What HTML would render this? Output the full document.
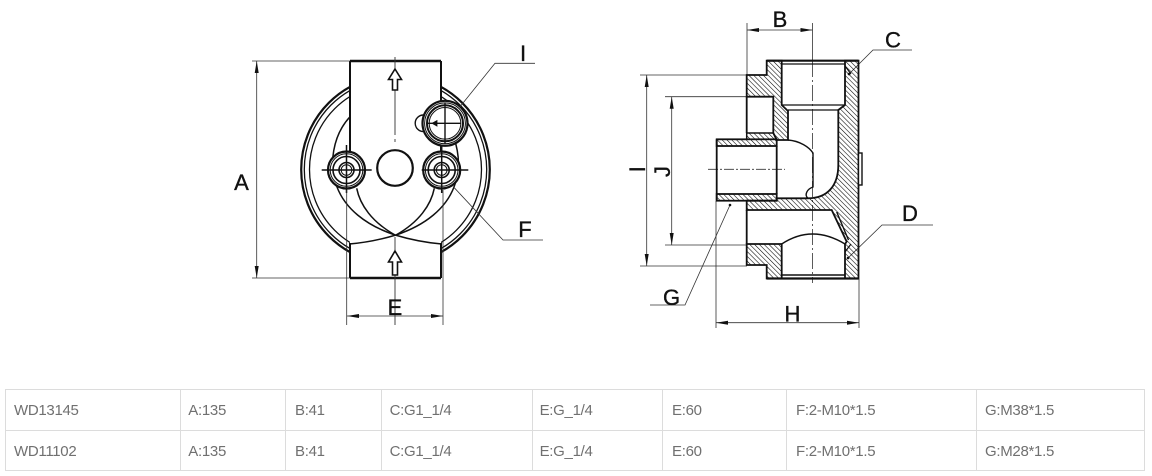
<!DOCTYPE html>
<html><head><meta charset="utf-8"><style>
html,body{margin:0;padding:0;background:#fff;}
body{width:1152px;height:476px;overflow:hidden;position:relative;}
svg{position:absolute;left:0;top:0;}
.lb{font-family:"Liberation Sans",Arial,sans-serif;font-size:22px;fill:#111;stroke:#111;stroke-width:0.35;text-anchor:middle;}
.tb{font-family:"Liberation Sans",Arial,sans-serif;font-size:15px;fill:#707070;letter-spacing:-0.3px;}
</style></head><body>
<svg width="1152" height="476" viewBox="0 0 1152 476" xmlns="http://www.w3.org/2000/svg">
<defs>
<pattern id="h" width="3.4" height="3.4" patternUnits="userSpaceOnUse" patternTransform="rotate(-45)">
<line x1="0" y1="-1" x2="0" y2="5" stroke="#000" stroke-width="1.1"/>
</pattern>
<clipPath id="out"><rect x="0" y="0" width="350" height="476"/><rect x="441" y="0" width="300" height="476"/></clipPath>
</defs>

<!-- ============ LEFT VIEW ============ -->
<g fill="none" stroke="#111">
  <g clip-path="url(#out)">
    <circle cx="395.5" cy="169.5" r="94.3" stroke-width="2.2"/>
    <circle cx="395.5" cy="169.5" r="91.2" stroke-width="1.3"/>
    <circle cx="395.5" cy="169.5" r="86" stroke-width="1.3"/>
  </g>
  <path d="M350,61 H441 M350,278 H441" stroke-width="2.6"/>
  <path d="M350,61 V152 M350,243 V278 M441,61 V102 M441,146 V152 M441,243 V278" stroke-width="2"/>
  <!-- lobes -->
  <path d="M350,116.7 C333,135 328,165 337,187 C345,208 365,225 395,235 C415,241 430,243 441.7,244" stroke-width="1.5"/>
  <path d="M441,116.7 C458,135 463,165 454,187 C446,208 426,225 396,235 C376,241 361,243 349.3,244" stroke-width="1.5"/>
  <path d="M356.7,188.3 C360,205 372,222 395,235" stroke-width="1.5"/>
  <path d="M434.3,188.3 C431,205 419,222 396,235" stroke-width="1.5"/>
  <!-- center lines -->
  <path d="M395,57 V135 M395,139 V142" stroke-width="0.9" stroke="#333"/>
  <path d="M395,237 V325" stroke-width="0.9" stroke="#333"/>
  <!-- arrows -->
  <path d="M395,69 L401.5,79.5 L397.5,79.5 L397.5,90 L392.5,90 L392.5,79.5 L388.5,79.5 Z" fill="#fff" stroke-width="1.6"/>
  <path d="M395,251 L401.5,262 L397.5,262 L397.5,275 L392.5,275 L392.5,262 L388.5,262 Z" fill="#fff" stroke-width="1.6"/>
  <!-- center hole -->
  <circle cx="395" cy="168" r="17.8" stroke-width="2.2"/>
  <!-- left port -->
  <circle cx="346.5" cy="170" r="18.5" fill="#fff" stroke-width="2.2"/>
  <circle cx="346.5" cy="170" r="16.3" stroke-width="1"/>
  <circle cx="346.5" cy="170" r="13.5" stroke-width="1.6"/>
  <circle cx="346.5" cy="170" r="7.5" stroke-width="1.6"/>
  <circle cx="346.5" cy="170" r="5.3" stroke-width="1"/>
  <path d="M321.7,170 H371.7 M346.5,145 V193" stroke-width="1.5"/>
  <!-- right port -->
  <circle cx="441.7" cy="170" r="18.5" fill="#fff" stroke-width="2.2"/>
  <circle cx="441.7" cy="170" r="16.3" stroke-width="1"/>
  <circle cx="441.7" cy="170" r="13.5" stroke-width="1.6"/>
  <circle cx="441.7" cy="170" r="7.5" stroke-width="1.6"/>
  <circle cx="441.7" cy="170" r="5.3" stroke-width="1"/>
  <path d="M421.7,170 H468.3 M441.7,145 V193" stroke-width="1.5"/>
  <!-- I port -->
  <path d="M423.5,115 A8.3,8.3 0 0 0 423.5,131.6" stroke-width="1.4"/>
  <circle cx="445" cy="123.3" r="22.5" fill="#fff" stroke-width="2.2"/>
  <circle cx="445" cy="123.3" r="20.4" stroke-width="1"/>
  <circle cx="445" cy="123.3" r="18" stroke-width="2"/>
  <circle cx="445" cy="123.3" r="15.8" stroke-width="1"/>
  <path d="M427,123.3 H461 M445,103 V144" stroke-width="1.4"/>
  <path d="M432,123.3 L437,120.5 L437,126.1 Z" fill="#111" stroke-width="0.8"/>
  <!-- dims -->
  <g stroke="#333" stroke-width="0.8">
    <path d="M252,61 H350 M252,278 H350 M256.7,61 V278"/>
    <path d="M346.7,190 V325 M443,190 V325 M347,316 H443"/>
    <path d="M460,106.7 L495,63.3 H535"/>
    <path d="M453.3,186.7 L503,240 H543"/>
  </g>
</g>
<g fill="#111">
  <polygon points="256.7,61 254.7,73 258.7,73"/>
  <polygon points="256.7,278 254.7,266 258.7,266"/>
  <polygon points="347,316 359,314 359,318"/>
  <polygon points="443,316 431,314 431,318"/>
</g>
<text class="lb" x="241.5" y="190">A</text>
<text class="lb" x="395" y="315">E</text>
<text class="lb" x="523" y="61">I</text>
<text class="lb" x="525" y="237">F</text>

<!-- ============ RIGHT VIEW ============ -->
<g stroke="#333" stroke-width="0.8" fill="none">
  <path d="M747,23 V75 M747,30 H812.5"/>
  <path d="M812.5,23 V61 M812.5,278.5 V283"/>
  <path d="M812.5,61 V278.5" stroke-dasharray="16 3 2 3"/>
  <path d="M708,169.3 H785" stroke-dasharray="10 2 2 2"/>
  <path d="M640,75 H747 M640,266 H747 M646.7,75 V266"/>
  <path d="M665,96.7 H747 M665,245 H747 M671.7,96.7 V245"/>
  <path d="M716,201 V328 M859,279 V328 M716,322.7 H859"/>
  <path d="M849,74 L873,50 H912"/>
  <path d="M848,258 L882,225 H933"/>
  <path d="M730,205 L685,305 H650"/>
</g>
<g stroke="#111" stroke-linejoin="miter">
  <path d="M746.7,75 L766.7,75 L766.7,60.7 L781.7,60.7 L781.7,105 L788,111 L788,140 L776.7,140 L773.3,133 L773.3,96.7 L746.7,96.7 Z" fill="url(#h)" stroke-width="1.8"/>
  <path d="M746.7,133 L773.3,133 L776.7,139.3 L746.7,139.3 Z" fill="url(#h)" stroke-width="1.5"/>
  <rect x="716.7" y="139.3" width="60" height="6.7" fill="url(#h)" stroke-width="1.8"/>
  <rect x="716.7" y="194" width="60" height="6.7" fill="url(#h)" stroke-width="1.8"/>
  <path d="M845,60.7 L858.5,60.7 L858.5,278.5 L845,278.5 L845,244 L846.7,241.7 L831.7,210 L746.7,210 L746.7,200.7 L776.7,200.7 L776.7,198.3 L808,198.3 C828,198.3 838.3,185 838.3,165 L838.3,110 L845,105 Z" fill="url(#h)" stroke-width="1.8"/>
  <path d="M746.7,244 L781.7,244 L781.7,278.5 L766.7,278.5 L766.7,265 L746.7,265 Z" fill="url(#h)" stroke-width="1.8"/>
  <path d="M766.7,60.7 H858.5 M766.7,278.5 H858.5" stroke-width="2.2" fill="none"/>
  <path d="M781.7,64 H845 M781.7,105 H845 M788,110 H838.3" stroke-width="1.2" fill="none"/>
  <path d="M746.7,96.7 V133 M716.7,139.3 V200.7 M776.7,146 V194 M746.7,210 V244" stroke-width="1.8" fill="none"/>
  <path d="M788,140 C800,141 809,147 813,153 L813,187 C807,189 804,195 808,198.3" stroke-width="1.4" fill="none"/>
  <path d="M781.7,244 Q812,224 845,244 M781.7,275 H845 M836.7,212 L848.5,240" stroke-width="1.4" fill="none"/>
  <path d="M845,66 L851,74 M845,252 L851,244" stroke-width="1.2" fill="none"/>
  <rect x="858.5" y="153" width="3.5" height="32" fill="#fff" stroke-width="1.4"/>
</g>
<g fill="#111">
  <polygon points="747,30 759,28 759,32"/>
  <polygon points="812.5,30 800.5,28 800.5,32"/>
  <polygon points="646.7,75 644.7,87 648.7,87"/>
  <polygon points="646.7,266 644.7,254 648.7,254"/>
  <polygon points="671.7,96.7 669.7,108.7 673.7,108.7"/>
  <polygon points="671.7,245 669.7,233 673.7,233"/>
  <polygon points="716,322.7 728,320.7 728,324.7"/>
  <polygon points="859,322.7 847,320.7 847,324.7"/>
  <circle cx="849" cy="74" r="1.3"/>
  <circle cx="848" cy="258" r="1.3"/>
  <circle cx="730" cy="205" r="1.3"/>
</g>
<text class="lb" x="780" y="27">B</text>
<text class="lb" x="893" y="47.5">C</text>
<text class="lb" x="910" y="221">D</text>
<text class="lb" x="671.5" y="305">G</text>
<text class="lb" x="792.5" y="321.5">H</text>
<text class="lb" transform="translate(629,169.3) rotate(-90)" x="0" y="16">I</text>
<text class="lb" transform="translate(654,171.5) rotate(-90)" x="0" y="16">J</text>

<!-- ============ TABLE ============ -->
<g stroke="#dcdcdc" stroke-width="1" fill="none">
  <path d="M5,389.5 H1145 M5,430.5 H1145 M5,470.5 H1145"/>
  <path d="M5.5,389 V471 M180.5,389 V471 M285.5,389 V471 M381.5,389 V471 M532.5,389 V471 M662.5,389 V471 M786.5,389 V471 M976.5,389 V471 M1144.5,389 V471"/>
</g>
<text class="tb" x="14" y="415">WD13145</text>
<text class="tb" x="188.3" y="415">A:135</text>
<text class="tb" x="295" y="415">B:41</text>
<text class="tb" x="389.6" y="415">C:G1_1/4</text>
<text class="tb" x="539.6" y="415">E:G_1/4</text>
<text class="tb" x="672" y="415">E:60</text>
<text class="tb" x="796" y="415">F:2-M10*1.5</text>
<text class="tb" x="985" y="415">G:M38*1.5</text>
<text class="tb" x="14" y="456">WD11102</text>
<text class="tb" x="188.3" y="456">A:135</text>
<text class="tb" x="295" y="456">B:41</text>
<text class="tb" x="389.6" y="456">C:G1_1/4</text>
<text class="tb" x="539.6" y="456">E:G_1/4</text>
<text class="tb" x="672" y="456">E:60</text>
<text class="tb" x="796" y="456">F:2-M10*1.5</text>
<text class="tb" x="985" y="456">G:M28*1.5</text>
</svg>
</body></html>
